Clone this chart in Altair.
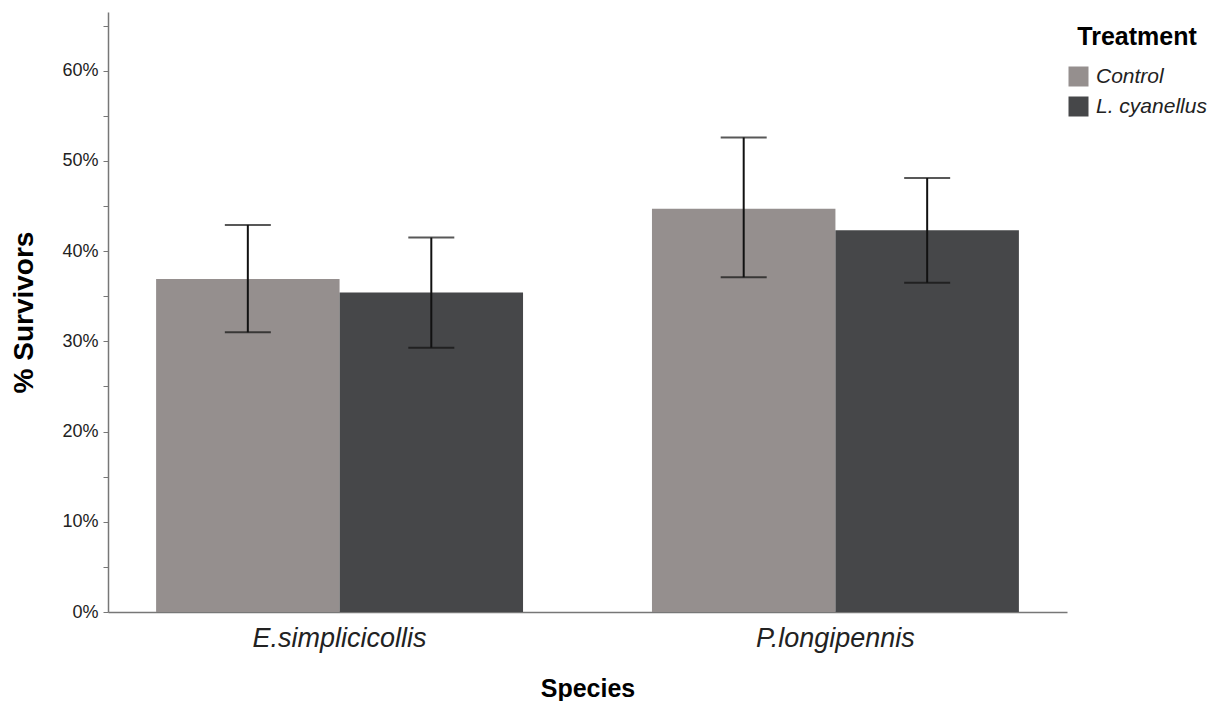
import altair as alt
import pandas as pd

species = ["E.simplicicollis", "E.simplicicollis", "P.longipennis", "P.longipennis"]
treatment = ["Control", "L. cyanellus", "Control", "L. cyanellus"]
survivors = [0.369, 0.354, 0.447, 0.423]
ci_low = [0.310, 0.293, 0.371, 0.365]
ci_high = [0.429, 0.415, 0.526, 0.481]

df = pd.DataFrame({"Species": species, "Treatment": treatment,
                   "val": survivors, "lo": ci_low, "hi": ci_high})

FONT = "Liberation Sans"
tick_vals = [i * 0.05 for i in range(14)]

x = alt.X("Species:N", title="Species",
          scale=alt.Scale(paddingInner=0.26, paddingOuter=0.097),
          axis=alt.Axis(labelAngle=0, labelFont=FONT, labelFontSize=27,
                        labelFontStyle="italic", labelColor="#222",
                        labelPadding=13, ticks=False, domainColor="#777",
                        domainWidth=1.5, titleFont=FONT, titleFontSize=25,
                        titleFontWeight="bold", titleColor="#000",
                        titleBaseline="alphabetic", titleY=84))
xo = alt.XOffset("Treatment:N", scale=alt.Scale(paddingInner=0, paddingOuter=0))
yscale = alt.Scale(domain=[0, 0.665], nice=False, zero=True)

bars = alt.Chart(df).mark_bar(opacity=1).encode(
    x=x, xOffset=xo,
    y=alt.Y("val:Q", scale=yscale, title="% Survivors",
            axis=alt.Axis(values=tick_vals, grid=False,
                          labelExpr="round(datum.value*100) % 10 == 0 ? format(datum.value, '.0%') : ''",
                          labelFont=FONT, labelFontSize=18, labelColor="#222",
                          labelPadding=5, tickSize=5, tickColor="#777",
                          domainColor="#777", domainWidth=1.5,
                          titleFont=FONT, titleFontSize=28, titleFontWeight="bold",
                          titleColor="#000", titlePadding=23)),
    color=alt.Color("Treatment:N",
                    scale=alt.Scale(domain=["Control", "L. cyanellus"],
                                    range=["#958f8e", "#464749"]),
                    legend=alt.Legend(title="Treatment", orient="none",
                                      legendX=960, legendY=13,
                                      titleFont=FONT, titleFontSize=25,
                                      titleFontWeight="bold", titleColor="#000",
                                      titleAnchor="middle", titlePadding=16,
                                      labelFont=FONT, labelFontSize=21,
                                      labelFontStyle="italic", labelColor="#222",
                                      symbolType="square", symbolSize=400,
                                      symbolStrokeWidth=0, symbolOpacity=1,
                                      rowPadding=8, labelOffset=7)),
)

rules = alt.Chart(df).mark_rule(color="#111", strokeWidth=2).encode(
    x=alt.X("Species:N"), xOffset=xo, y="lo:Q", y2="hi:Q")
cap_lo = alt.Chart(df).mark_tick(color="#111", thickness=2, size=46).encode(
    x=alt.X("Species:N"), xOffset=xo, y="lo:Q")
cap_hi = alt.Chart(df).mark_tick(color="#111", thickness=2, size=46).encode(
    x=alt.X("Species:N"), xOffset=xo, y="hi:Q")

chart = alt.layer(bars, rules, cap_lo, cap_hi).properties(
    width=959, height=600,
    background="white",
    autosize=alt.AutoSizeParams(type="none"),
    padding={"left": 100, "top": 4, "right": 147, "bottom": 89},
).configure_view(strokeWidth=0, stroke="transparent")

chart.save("out.html", embed_options={"renderer": "svg", "actions": False})
